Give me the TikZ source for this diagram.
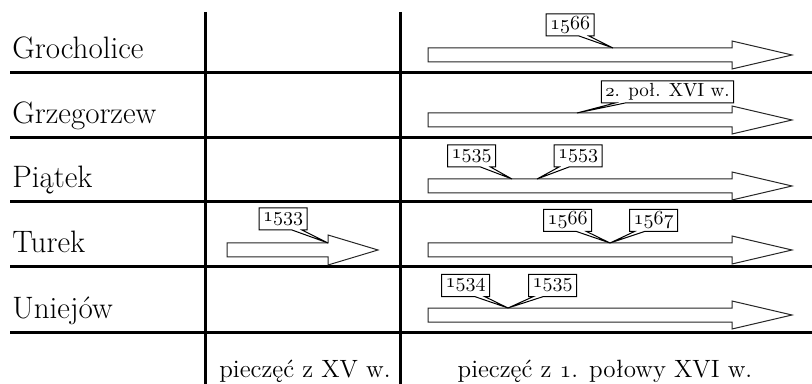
\documentclass[tikz,border=0pt]{standalone}
\usepackage{tikz}
\usetikzlibrary{shapes.callouts}
\newcommand{\yr}[1]{{\usefont{OML}{lmm}{m}{it}#1}}

\begin{document}
\begin{tikzpicture}[x=0.5pt, y=-0.5pt,
		rule/.style={line width=1.5pt},
		seal/.style={line width=0.5pt, draw=black!85, fill=white},
		place/.style={anchor=base west, inner sep=0pt, font=\fontsize{15.5}{18}\selectfont},
		period/.style={anchor=base, inner sep=0pt, font=\fontsize{12.5}{15}\selectfont},
		yearbox/.style={rectangle callout, draw, line width=0.5pt, fill=white, inner xsep=2pt, inner ysep=1pt, minimum height=11pt, callout pointer width=5pt, font=\fontsize{10}{12}\selectfont}]
				\useasboundingbox (0,0) rectangle (812,384);
				
				% grid
				\draw[rule] (10,73) -- (812,73);
				\draw[rule] (10,138) -- (812,138);
				\draw[rule] (10,202) -- (812,202);
				\draw[rule] (10,267) -- (812,267);
				\draw[rule] (10,332) -- (812,332);
				\draw[rule] (205,12) -- (205,384);
				\draw[rule] (400,12) -- (400,384);
				
				% places
				\node[place] (grocholice) at (12,59) {Grocholice};
				\node[place] (grzegorzew) at (12,124) {Grzegorzew};
				\node[place] (piatek) at (12,188) {Piątek};
				\node[place] (turek) at (12,253) {Turek};
				\node[place] (uniejow) at (12,318) {Uniejów};
				
				% arrows
				\draw[seal] (428,48) -- (732,48) -- (732,41) -- (792,55) -- (732,69) -- (732,62) -- (428,62) -- cycle;
				\draw[seal] (428,113) -- (732,113) -- (732,106) -- (792,120) -- (732,134) -- (732,127) -- (428,127) -- cycle;
				\draw[seal] (428,179) -- (732,179) -- (732,172) -- (792,186) -- (732,200) -- (732,193) -- (428,193) -- cycle;
				\draw[seal] (227,243) -- (328,243) -- (328,235) -- (378,250) -- (328,265) -- (328,257) -- (227,257) -- cycle;
				\draw[seal] (428,243) -- (732,243) -- (732,236) -- (792,250) -- (732,264) -- (732,257) -- (428,257) -- cycle;
				\draw[seal] (428,308) -- (732,308) -- (732,301) -- (792,315) -- (732,329) -- (732,322) -- (428,322) -- cycle;
				
				% dates
				\node[yearbox, callout absolute pointer={(613,48)}] (g1566) at (570,25) {\yr{1566}};
				\node[yearbox, font=\fontsize{9.5}{11}\selectfont, callout absolute pointer={(577,113)}] (gz) at (667.5,92) {\yr{2}. poł. XVI w.};
				\node[yearbox, callout absolute pointer={(512,179)}] (p1535) at (471.5,156) {\yr{1535}};
				\node[yearbox, callout absolute pointer={(537,179)}] (p1553) at (578,156) {\yr{1553}};
				\node[yearbox, callout absolute pointer={(328,243)}] (t1533) at (283,219) {\yr{1533}};
				\node[yearbox, callout absolute pointer={(610,243)}] (t1566) at (567.5,220.5) {\yr{1566}};
				\node[yearbox, callout absolute pointer={(610,243)}] (t1567) at (653.5,220.5) {\yr{1567}};
				\node[yearbox, callout absolute pointer={(508,308)}] (u1534) at (465.5,285.5) {\yr{1534}};
				\node[yearbox, callout absolute pointer={(508,308)}] (u1535) at (552.5,285.5) {\yr{1535}};
				
				% periods
				\node[period] (xv) at (305,377) {pieczęć z XV w.};
				\node[period] (xvi) at (605,377) {pieczęć z \yr{1}. połowy XVI w.};
\end{tikzpicture}
\end{document}
